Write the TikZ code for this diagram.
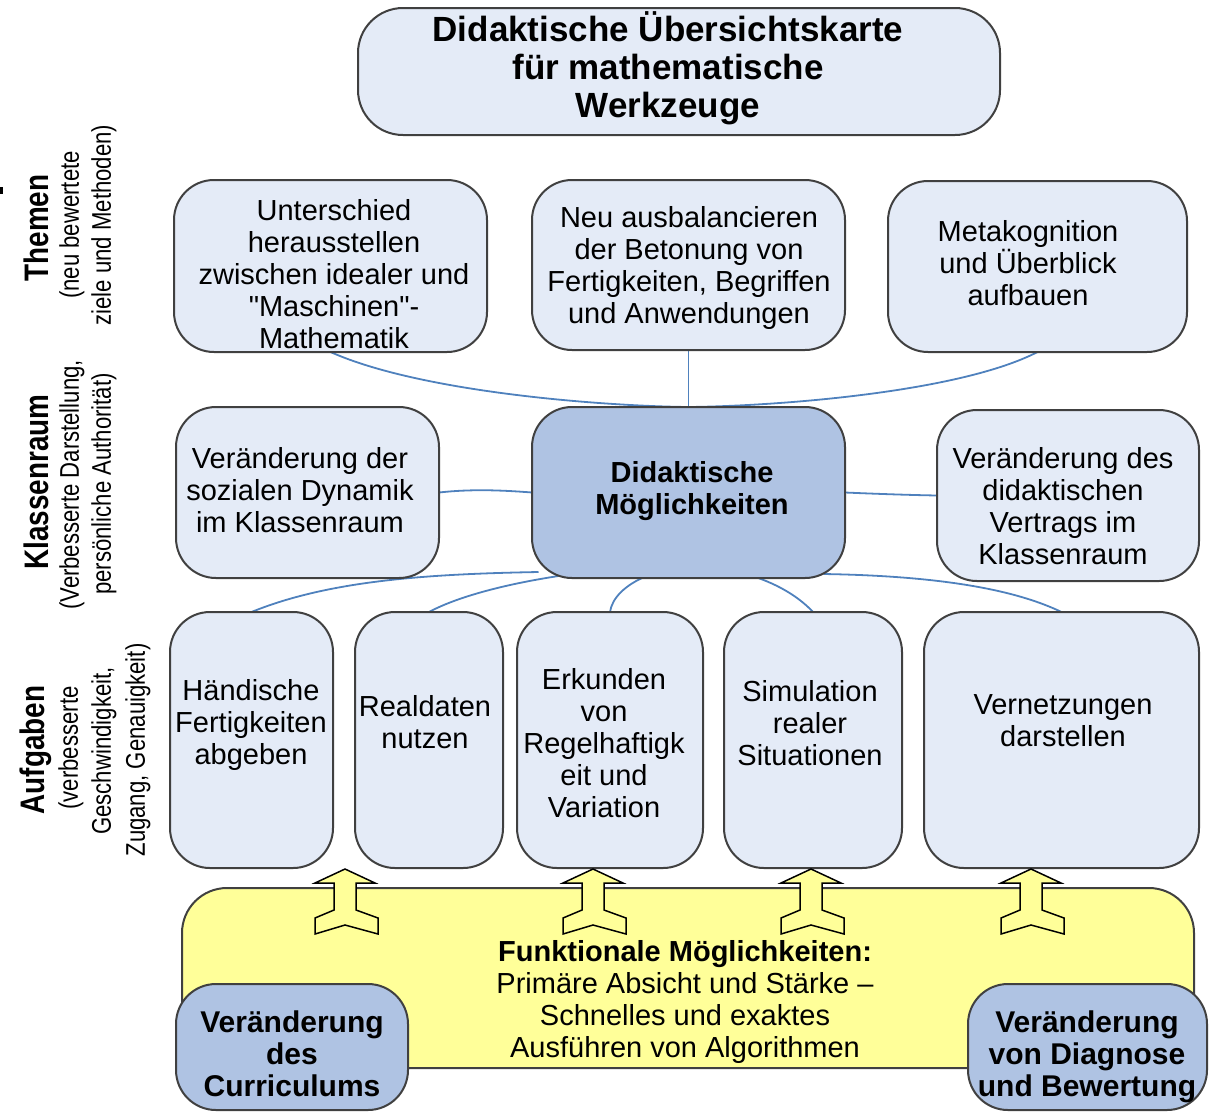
\documentclass[tikz,border=0pt]{standalone}
\usepackage{fontspec}
\setmainfont{Liberation Sans}
\usetikzlibrary{calc}
\definecolor{boxfill}{RGB}{228,235,247}
\definecolor{darkfill}{RGB}{175,195,227}
\definecolor{yel}{RGB}{255,255,153}
\definecolor{connblue}{RGB}{79,129,189}
\definecolor{edgegray}{RGB}{64,64,64}
\newcommand\straightquote{\XeTeXglyph\XeTeXcharglyph"0022\relax}
\tikzset{
  box/.style={draw=edgegray, line width=2pt, fill=boxfill, rounded corners=40pt, inner sep=0pt},
  dbox/.style={box, fill=darkfill},
  ybox/.style={box, fill=yel, rounded corners=45pt},
  txt/.style={align=center, inner sep=0pt, text=black, font=\fontsize{29}{32}\selectfont},
  btxt/.style={txt, font=\fontsize{29}{32}\selectfont\bfseries},
  ttxt/.style={txt, font=\fontsize{35}{38}\selectfont\bfseries},
  lbold/.style={rotate=90, inner sep=0pt, text=black, font=\fontsize{34}{34}\selectfont\bfseries},
  lreg/.style={rotate=90, inner sep=0pt, text=black, font=\fontsize{27}{27}\selectfont},
  connline/.style={draw=connblue, line width=1.8pt},
  uparrowshape/.pic={\draw[draw=black, line width=1.5pt, fill=yel, line join=miter]
     (0,0) -- (30,14) -- (11,14) -- (11,41) -- (33,49) -- (33,65) -- (0,56)
     -- (-30,65) -- (-30,49) -- (-11,41) -- (-11,14) -- (-30,14) -- cycle;}
}
\begin{document}
\begin{tikzpicture}[x=1pt,y=-1pt]
\useasboundingbox (0,0) rectangle (1209,1112);
\fill[black] (0,187) rectangle (3,194);

% Title
\node[box, minimum width=642pt, minimum height=127pt, rounded corners=45pt] (title) at (679,71.5) {};
\node[ttxt] (titlet) at (668,68) {Didaktische Übersichtskarte\\für mathematische\\Werkzeuge};

% connector end points (on the box borders)
\path (330.5,352) coordinate (t1s) (688.5,350) coordinate (t2s) (1037.5,352) coordinate (t3s);
\path (688.5,407) coordinate (kcn) (688.5,578) coordinate (kcs);
\path (439,492.5) coordinate (k1e) (532,492.5) coordinate (kcw) (845,492.5) coordinate (kce) (937,495.5) coordinate (k3w);
\path (251.5,612) coordinate (a1n) (429,612) coordinate (a2n) (610,612) coordinate (a3n) (813,612) coordinate (a4n) (1061.5,612) coordinate (a5n);

\draw[connline] (t1s) .. controls (420,392) and (600,406) .. (kcn);
\draw[connline] (t3s) .. controls (960,392) and (780,406) .. (kcn);
\draw[connline] (t2s) -- (kcn);
\draw[connline] (k1e) .. controls (470,489) and (500,490) .. (kcw);
\draw[connline] (kce) .. controls (880,494) and (910,495) .. (k3w);
\draw[connline] ($(kcs)+(-150,-6)$) .. controls (430,574) and (330,580) .. (a1n);
\draw[connline] ($(kcs)+(-130,-2)$) .. controls (500,585) and (455,598) .. (a2n);
\draw[connline] ($(kcs)+(-42,-2)$) .. controls (625,585) and (612,598) .. (a3n);
\draw[connline] ($(kcs)+(64,-2)$) .. controls (780,585) and (800,598) .. (a4n);
\draw[connline] ($(kcs)+(135,-4)$) .. controls (950,576) and (1020,592) .. (a5n);

% Themen row
\node[box, minimum width=313pt, minimum height=172pt] (t1) at (330.5,266) {};
\node[txt] (t1t) at (334,274) {Unterschied\\herausstellen\\zwischen idealer und\\\straightquote Maschinen\straightquote-\\Mathematik};
\node[box, minimum width=313pt, minimum height=170pt] (t2) at (688.5,265) {};
\node[txt] (t2t) at (689,268) {Neu ausbalancieren\\der Betonung von\\Fertigkeiten, Begriffen\\und Anwendungen};
\node[box, minimum width=299pt, minimum height=171pt] (t3) at (1037.5,266.5) {};
\node[txt] (t3t) at (1028,263) {Metakognition\\und Überblick\\aufbauen};

% Klassenraum row
\node[box, minimum width=263pt, minimum height=171pt] (k1) at (307.5,492.5) {};
\node[txt] (k1t) at (300,490) {Veränderung der\\sozialen Dynamik\\im Klassenraum};
\node[dbox, minimum width=313pt, minimum height=171pt] (kc) at (688.5,492.5) {};
\node[btxt] (kct) at (692,491) {Didaktische\\Möglichkeiten};
\node[box, minimum width=262pt, minimum height=171pt] (k3) at (1068,495.5) {};
\node[txt] (k3t) at (1063,506) {Veränderung des\\didaktischen\\Vertrags im\\Klassenraum};

% Aufgaben row
\node[box, minimum width=163pt, minimum height=256pt] (a1) at (251.5,740) {};
\node[txt] (a1t) at (251,725) {Händische\\Fertigkeiten\\abgeben};
\node[box, minimum width=148pt, minimum height=256pt] (a2) at (429,740) {};
\node[txt] (a2t) at (425,722) {Realdaten\\nutzen};
\node[box, minimum width=186pt, minimum height=256pt] (a3) at (610,740) {};
\node[txt] (a3t) at (604,743) {Erkunden\\von\\Regelhaftigk\\eit und\\Variation};
\node[box, minimum width=178pt, minimum height=256pt] (a4) at (813,740) {};
\node[txt] (a4t) at (810,723) {Simulation\\realer\\Situationen};
\node[box, minimum width=275pt, minimum height=256pt] (a5) at (1061.5,740) {};
\node[txt] (a5t) at (1063,721) {Vernetzungen\\darstellen};

% Yellow box
\node[ybox, minimum width=1012pt, minimum height=180pt] (fm) at (688,978) {};
\node[txt] (fmt) at (685,1002) {\textbf{Funktionale Möglichkeiten:}\\Primäre Absicht und Stärke –\\Schnelles und exaktes\\Ausführen von Algorithmen};

% arrows
\pic at (345,869) {uparrowshape};
\pic at (593,869) {uparrowshape};
\pic at (811,869) {uparrowshape};
\pic at (1031,869) {uparrowshape};

% bottom boxes
\node[dbox, minimum width=232pt, minimum height=126pt] (bl) at (292,1047) {};
\node[btxt, font=\fontsize{30}{32}\selectfont\bfseries] (blt) at (292,1054) {Veränderung\\des\\Curriculums};
\node[dbox, minimum width=239pt, minimum height=126pt] (br) at (1087.5,1047) {};
\node[btxt, font=\fontsize{30}{32}\selectfont\bfseries] (brt) at (1087,1057) {Veränderung\\von Diagnose\\und Bewertung};

% left labels
\node[lbold] (lth) at (36,228) {\scalebox{0.82}[1]{Themen}};
\node[lreg] (lth1) at (72,225) {\scalebox{0.82}[1]{(neu bewertete}};
\node[lreg] (lth2) at (104,225) {\scalebox{0.82}[1]{ziele und Methoden)}};

\node[lbold] (lkl) at (36,482) {\scalebox{0.82}[1]{Klassenraum}};
\node[lreg] (lkl1) at (72,485) {\scalebox{0.82}[1]{(Verbesserte Darstellung,}};
\node[lreg] (lkl2) at (104,484) {\scalebox{0.82}[1]{persönliche Authorität)}};

\node[lbold] (lau) at (36,750) {\scalebox{0.82}[1]{Aufgaben}};
\node[lreg] (lau1) at (71,748) {\scalebox{0.82}[1]{(verbesserte}};
\node[lreg] (lau2) at (104,751) {\scalebox{0.82}[1]{Geschwindigkeit,}};
\node[lreg] (lau3) at (138,750) {\scalebox{0.82}[1]{Zugang, Genauigkeit)}};
\end{tikzpicture}
\end{document}
